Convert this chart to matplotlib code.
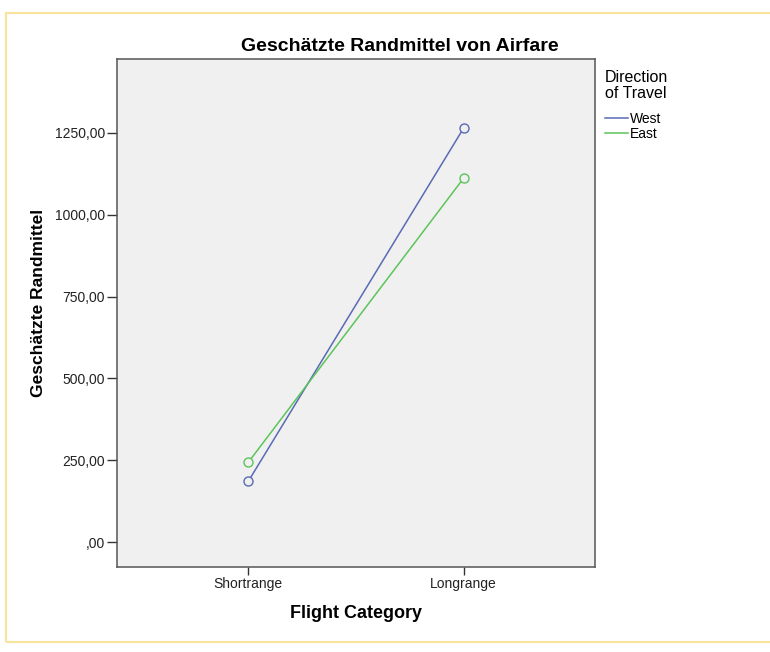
import numpy as np
import matplotlib.pyplot as plt
from matplotlib.patches import Rectangle
from matplotlib.ticker import FuncFormatter

categories = ['Shortrange', 'Longrange']
west = [186, 1265]
east = [244, 1112]
yticks = [0, 250, 500, 750, 1000, 1250]

plt.rcParams['font.family'] = ['Liberation Sans', 'DejaVu Sans']

W, H = 770, 652
fig = plt.figure(figsize=(W / 100, H / 100), dpi=100)
fig.patch.set_facecolor('white')

# gelber Rahmen um das Diagramm (rechts offen)
fig.add_artist(Rectangle((6 / W, 1 - 642 / H), 1.0, (642 - 13) / H,
                         transform=fig.transFigure, fill=False,
                         edgecolor='#F7E39A', linewidth=1.5))

# Plotbereich in Pixeln: links 117, rechts 595, oben 59, unten 567
ax = fig.add_axes([117 / W, 1 - 567 / H, (595 - 117) / W, (567 - 59) / H])
ax.set_facecolor('#F0F0F0')

x = np.arange(len(categories))
ax.plot(x, west, color='#5A6AB4', lw=1.1, marker='o', ms=6.5,
        mfc='#F0F0F0', mec='#5A6AB4', mew=1.0, label='West')
ax.plot(x, east, color='#5BC45B', lw=1.1, marker='o', ms=6.5,
        mfc='#F0F0F0', mec='#5BC45B', mew=1.0, label='East')

ax.set_xlim(-0.61, 1.61)
ax.set_ylim(-76, 1476)
ax.set_xticks(x)
ax.set_xticklabels(categories, fontsize=10)
ax.set_yticks(yticks)
ax.yaxis.set_major_formatter(FuncFormatter(
    lambda v, p: ('%.2f' % v).replace('.', ',') if v != 0 else ',00'))
ax.tick_params(axis='y', labelsize=10, length=7, width=1, pad=1.5,
               color='#333333', labelcolor='#222222')
ax.tick_params(axis='x', length=6, width=1, pad=1,
               color='#333333', labelcolor='#222222')

for s in ax.spines.values():
    s.set_color('#555555')
    s.set_linewidth(1.1)

# Titel (auf die ganze Grafik zentriert)
fig.text(400 / W, 1 - 51 / H, 'Geschätzte Randmittel von Airfare',
         fontsize=14, fontweight='bold', ha='center', va='baseline')

ax.set_xlabel('Flight Category', fontsize=13, fontweight='bold')
ax.xaxis.set_label_coords(0.5, (567 - 618) / (567 - 59))
ax.xaxis.label.set_va('baseline')

ax.set_ylabel('Geschätzte Randmittel', fontsize=12.5, fontweight='bold')
ax.yaxis.set_label_coords((43 - 117) / (595 - 117), (567 - 303) / (567 - 59))
ax.yaxis.label.set_va('baseline')

# Legende
fig.text(636 / W, 1 - 70 / H, 'Direction\nof Travel', fontsize=11.5,
         ha='center', va='top', multialignment='center', linespacing=1.07)
leg = ax.legend(loc='upper left', bbox_to_anchor=(605 / W, 1 - 112 / H),
                bbox_transform=fig.transFigure, frameon=False, fontsize=10,
                handlelength=1.65, handletextpad=0.15, borderpad=0,
                borderaxespad=0, labelspacing=0.07)
for h in leg.legend_handles:
    h.set_marker('')

fig.savefig('out.png', dpi=100)
